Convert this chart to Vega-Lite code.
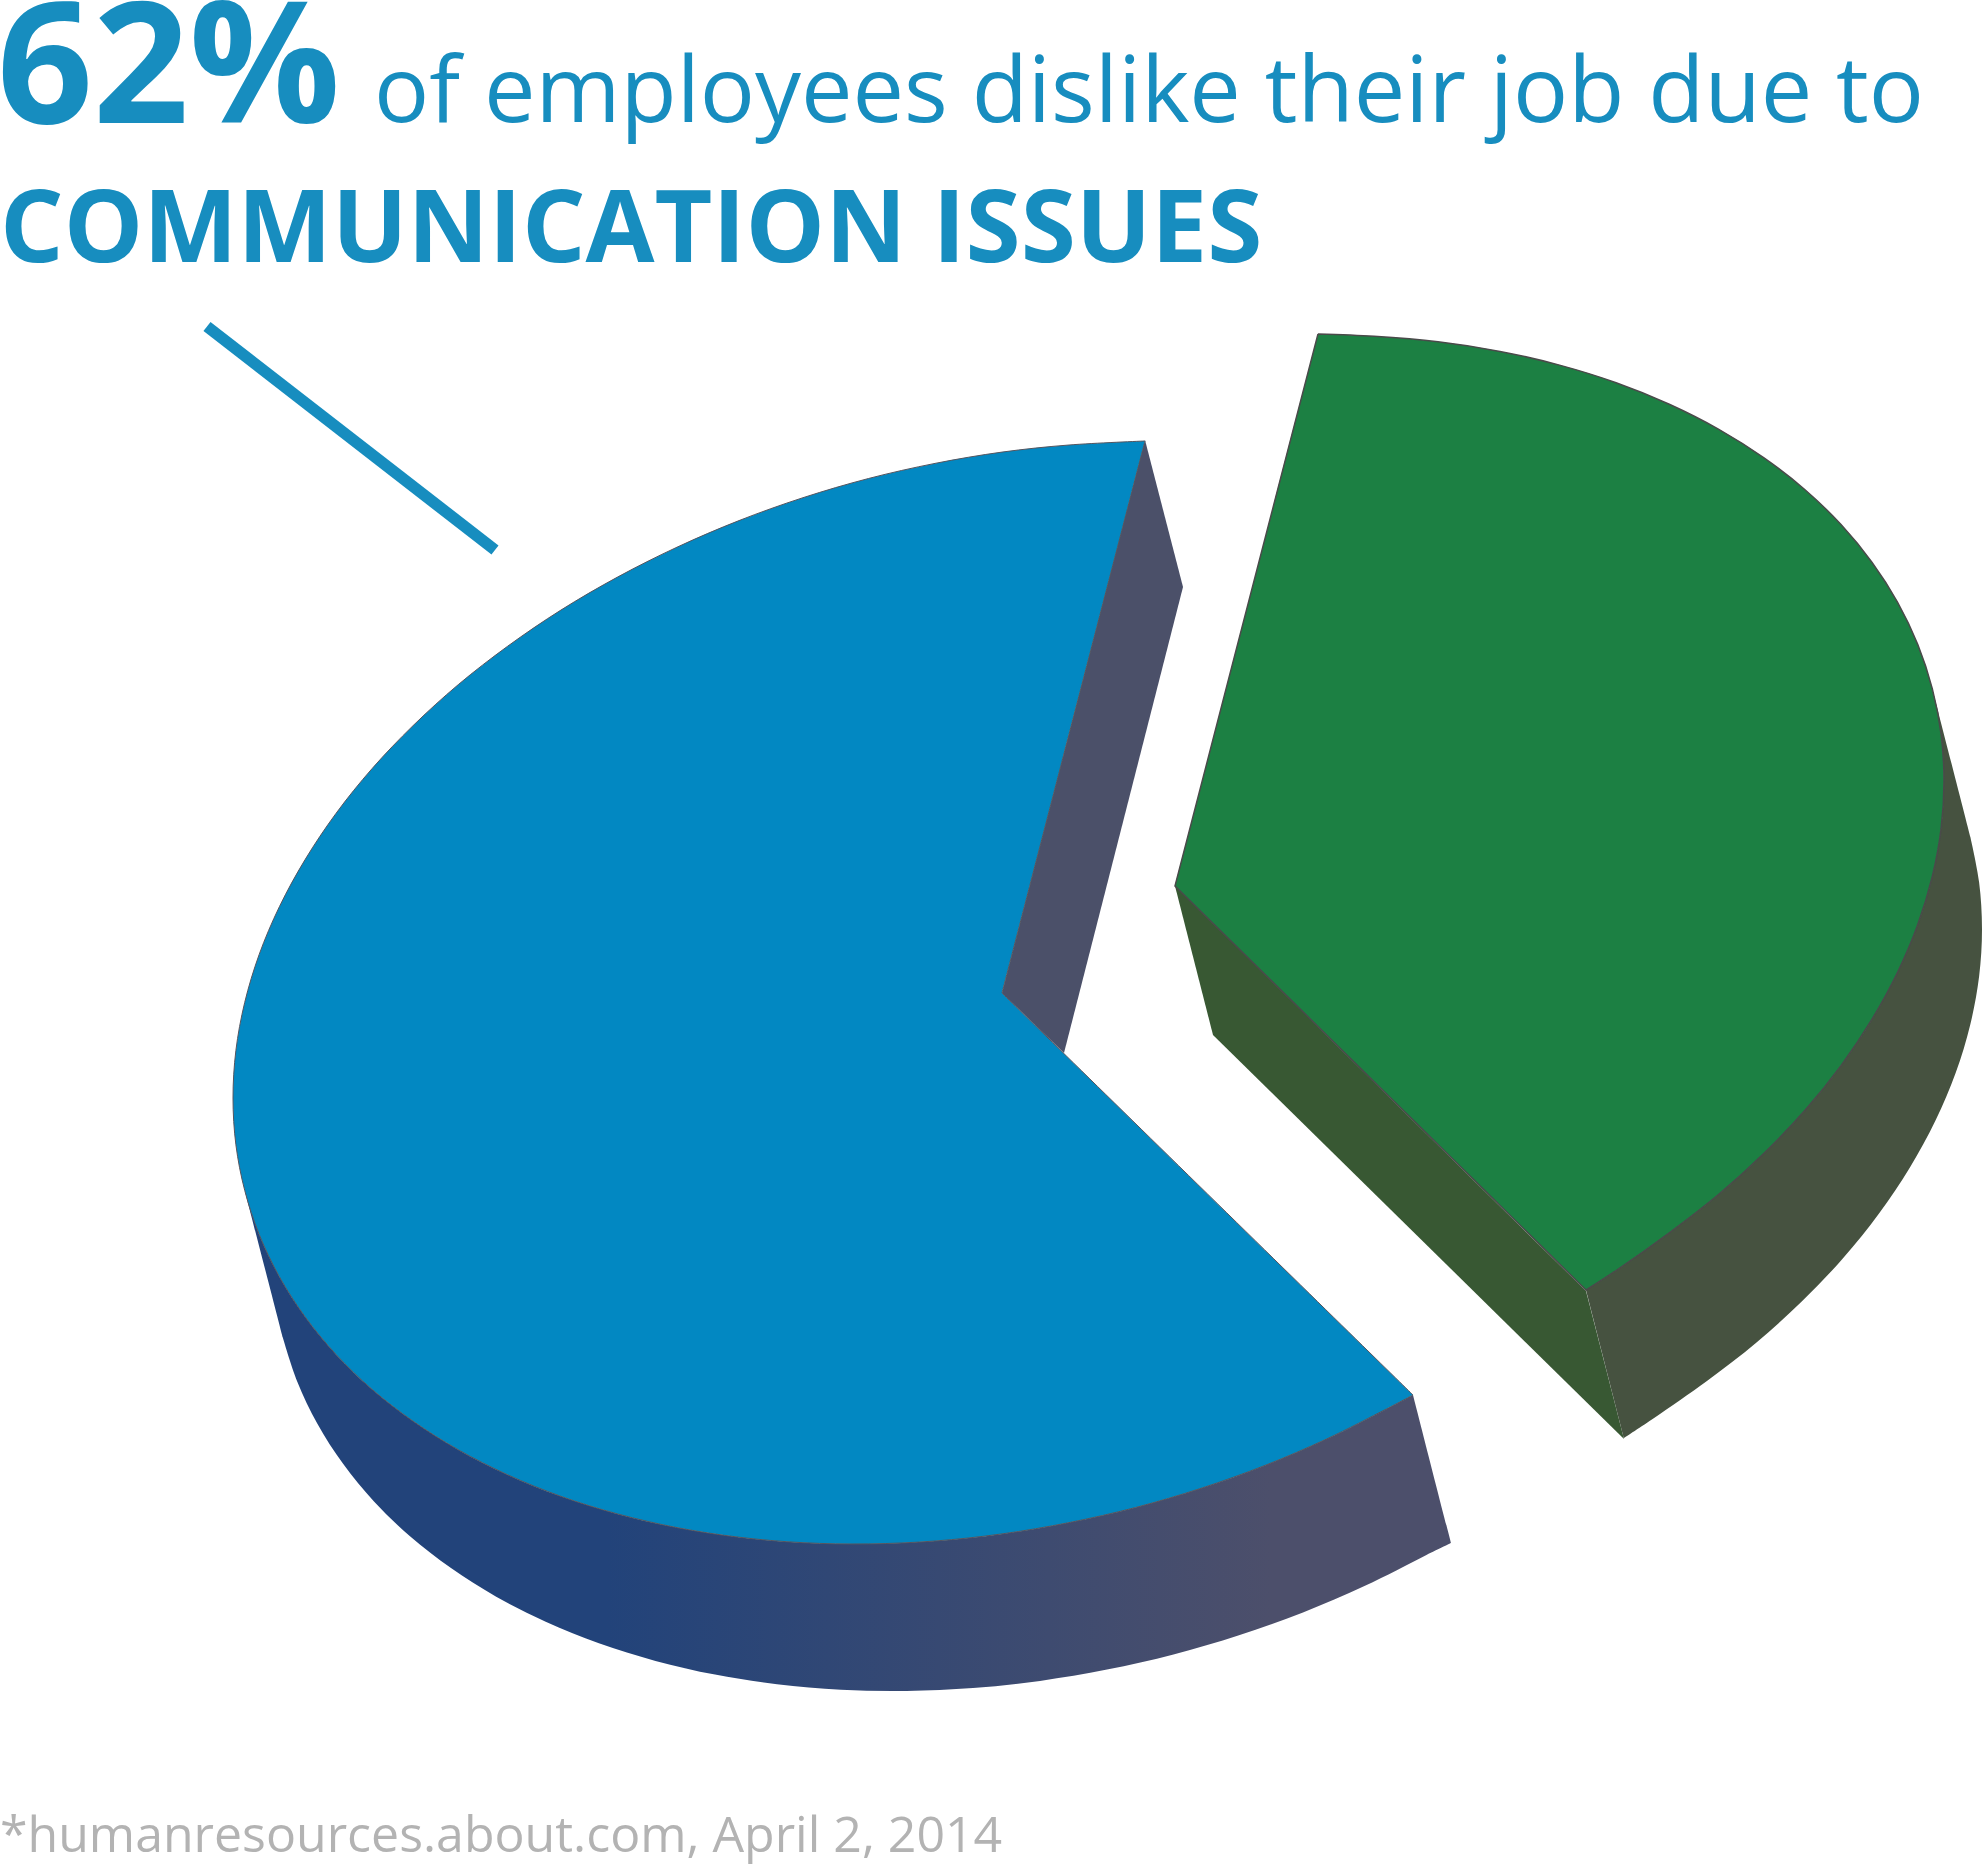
{"$schema":"https://vega.github.io/schema/vega-lite/v6.json","autosize":{"type":"none"},"padding":0,"width":1984,"height":1864,"background":"#ffffff","view":{"stroke":null},
"encoding":{"x":{"field":"x","type":"quantitative","axis":null,"scale":{"domain":[0,1984],"nice":false,"zero":false}},"y":{"field":"y","type":"quantitative","axis":null,"scale":{"domain":[1864,0],"nice":false,"zero":false}},"order":{"field":"i","type":"quantitative"}},
"layer":[
{"data":{"values":[{"i":-1,"x":244.7,"y":1190.3},{"i":0,"x":244.7,"y":1190.3},{"i":1,"x":259.2,"y":1234.4},{"i":2,"x":279.4,"y":1276.7},{"i":3,"x":305.1,"y":1316.8},{"i":4,"x":336,"y":1354.4},{"i":5,"x":372,"y":1389.3},{"i":6,"x":413,"y":1421.1},{"i":7,"x":458.2,"y":1449.7},{"i":8,"x":507.7,"y":1474.8},{"i":9,"x":560.9,"y":1496.3},{"i":10,"x":617.5,"y":1513.9},{"i":11,"x":677,"y":1527.6},{"i":12,"x":739,"y":1537.2},{"i":13,"x":803,"y":1542.7},{"i":14,"x":868.5,"y":1543.9},{"i":15,"x":935,"y":1541},{"i":16,"x":1002,"y":1533.9},{"i":17,"x":1069,"y":1522.6},{"i":18,"x":1135.5,"y":1507.5},{"i":19,"x":1201,"y":1488.3},{"i":20,"x":1265,"y":1465.4},{"i":21,"x":1327,"y":1438.8},{"i":22,"x":1386.5,"y":1408.9},{"i":23,"x":1413,"y":1395},{"i":23.5,"x":1413,"y":1395},{"i":24,"x":1451,"y":1543},{"i":24.5,"x":1451,"y":1543},{"i":25,"x":1424.5,"y":1555.9},{"i":26,"x":1365,"y":1585.8},{"i":27,"x":1303,"y":1612.4},{"i":28,"x":1239,"y":1635.3},{"i":29,"x":1173.5,"y":1654.5},{"i":30,"x":1107,"y":1669.6},{"i":31,"x":1040,"y":1680.9},{"i":32,"x":973,"y":1688},{"i":33,"x":906.5,"y":1690.9},{"i":34,"x":841,"y":1689.7},{"i":35,"x":777,"y":1684.2},{"i":36,"x":715,"y":1674.6},{"i":37,"x":655.5,"y":1660.9},{"i":38,"x":598.9,"y":1643.3},{"i":39,"x":545.7,"y":1621.8},{"i":40,"x":496.2,"y":1596.7},{"i":41,"x":451,"y":1568.1},{"i":42,"x":410,"y":1536.3},{"i":43,"x":374,"y":1501.4},{"i":44,"x":343.1,"y":1463.8},{"i":45,"x":317.4,"y":1423.7},{"i":46,"x":297.2,"y":1381.4},{"i":47,"x":282.7,"y":1337.3},{"i":47.5,"x":282.7,"y":1337.3},{"i":48,"x":244.7,"y":1190.3},{"i":49,"x":244.7,"y":1190.3}]},
"mark":{"type":"line","interpolate":"catmull-rom","strokeWidth":0,"fill":{"gradient":"linear","x1":0,"y1":0,"x2":1,"y2":0,"stops":[{"offset":0.3,"color":"#22437a"},{"offset":0.85,"color":"#4c4f6b"},{"offset":1,"color":"#4c4f6b"}]}}},
{"data":{"values":[{"i":0,"x":1145,"y":440},{"i":1,"x":1183,"y":587},{"i":2,"x":1064,"y":1053},{"i":3,"x":1002,"y":993},{"i":4,"x":1145,"y":440}]},
"mark":{"type":"line","strokeWidth":0,"fill":"#4b5069"}},
{"data":{"values":[{"i":-1,"x":1145,"y":441},{"i":0,"x":1145,"y":441},{"i":1,"x":1069,"y":445},{"i":2,"x":1002,"y":452.1},{"i":3,"x":935,"y":463.4},{"i":4,"x":868.5,"y":478.5},{"i":5,"x":803,"y":497.7},{"i":6,"x":739,"y":520.6},{"i":7,"x":677,"y":547.2},{"i":8,"x":617.5,"y":577.1},{"i":9,"x":560.9,"y":610.1},{"i":10,"x":507.7,"y":646.2},{"i":11,"x":458.2,"y":684.7},{"i":12,"x":413,"y":725.7},{"i":13,"x":372,"y":768.7},{"i":14,"x":336,"y":813.4},{"i":15,"x":305.1,"y":859.6},{"i":16,"x":279.4,"y":906.7},{"i":17,"x":259.2,"y":954.4},{"i":18,"x":244.7,"y":1002.5},{"i":19,"x":235.9,"y":1050.4},{"i":20,"x":233,"y":1098},{"i":21,"x":235.9,"y":1144.8},{"i":22,"x":244.7,"y":1190.3},{"i":23,"x":259.2,"y":1234.4},{"i":24,"x":279.4,"y":1276.7},{"i":25,"x":305.1,"y":1316.8},{"i":26,"x":336,"y":1354.4},{"i":27,"x":372,"y":1389.3},{"i":28,"x":413,"y":1421.1},{"i":29,"x":458.2,"y":1449.7},{"i":30,"x":507.7,"y":1474.8},{"i":31,"x":560.9,"y":1496.3},{"i":32,"x":617.5,"y":1513.9},{"i":33,"x":677,"y":1527.6},{"i":34,"x":739,"y":1537.2},{"i":35,"x":803,"y":1542.7},{"i":36,"x":868.5,"y":1543.9},{"i":37,"x":935,"y":1541},{"i":38,"x":1002,"y":1533.9},{"i":39,"x":1069,"y":1522.6},{"i":40,"x":1135.5,"y":1507.5},{"i":41,"x":1201,"y":1488.3},{"i":42,"x":1265,"y":1465.4},{"i":43,"x":1327,"y":1438.8},{"i":44,"x":1386.5,"y":1408.9},{"i":45,"x":1413,"y":1395},{"i":45.5,"x":1413,"y":1395},{"i":46,"x":1002,"y":993},{"i":46.5,"x":1002,"y":993},{"i":47,"x":1145,"y":441},{"i":48,"x":1145,"y":441}]},
"mark":{"type":"line","interpolate":"catmull-rom","stroke":"#55555f","strokeWidth":1,"fill":"#0288c2"}},
{"data":{"values":[{"i":0,"x":1175,"y":886},{"i":1,"x":1213,"y":1035},{"i":2,"x":1624,"y":1439},{"i":3,"x":1586,"y":1291},{"i":4,"x":1175,"y":886}]},
"mark":{"type":"line","strokeWidth":0,"fill":"#385833"}},
{"data":{"values":[{"i":-1,"x":1932.3,"y":688.7},{"i":0,"x":1932.3,"y":688.7},{"i":1,"x":1941.1,"y":734.2},{"i":2,"x":1944,"y":781},{"i":3,"x":1941.1,"y":828.6},{"i":4,"x":1932.3,"y":876.5},{"i":5,"x":1917.8,"y":924.6},{"i":6,"x":1897.6,"y":972.3},{"i":7,"x":1871.9,"y":1019.4},{"i":8,"x":1841,"y":1065.6},{"i":9,"x":1805,"y":1110.3},{"i":10,"x":1764,"y":1153.3},{"i":11,"x":1718.8,"y":1194.3},{"i":12,"x":1669.3,"y":1232.8},{"i":13,"x":1616.1,"y":1270.5},{"i":14,"x":1586,"y":1290},{"i":14.5,"x":1586,"y":1290},{"i":15,"x":1624,"y":1438},{"i":15.5,"x":1624,"y":1438},{"i":16,"x":1654.1,"y":1418},{"i":17,"x":1707.3,"y":1380.8},{"i":18,"x":1756.8,"y":1342.3},{"i":19,"x":1802,"y":1301.3},{"i":20,"x":1843,"y":1258.3},{"i":21,"x":1879,"y":1213.6},{"i":22,"x":1909.9,"y":1167.4},{"i":23,"x":1935.6,"y":1120.3},{"i":24,"x":1955.8,"y":1072.6},{"i":25,"x":1970.3,"y":1024.5},{"i":26,"x":1979.1,"y":976.6},{"i":27,"x":1982,"y":929},{"i":28,"x":1979.1,"y":882.2},{"i":29,"x":1970.3,"y":836.7},{"i":29.5,"x":1970.3,"y":836.7},{"i":30,"x":1932.3,"y":688.7},{"i":31,"x":1932.3,"y":688.7}]},
"mark":{"type":"line","interpolate":"catmull-rom","strokeWidth":0,"fill":"#465240"}},
{"data":{"values":[{"i":-1,"x":1318,"y":334},{"i":0,"x":1318,"y":334},{"i":1,"x":1374,"y":336.3},{"i":2,"x":1438,"y":341.8},{"i":3,"x":1500,"y":351.4},{"i":4,"x":1559.5,"y":365.1},{"i":5,"x":1616.1,"y":382.7},{"i":6,"x":1669.3,"y":404.2},{"i":7,"x":1718.8,"y":429.3},{"i":8,"x":1764,"y":457.9},{"i":9,"x":1805,"y":489.7},{"i":10,"x":1841,"y":524.6},{"i":11,"x":1871.9,"y":562.2},{"i":12,"x":1897.6,"y":602.3},{"i":13,"x":1917.8,"y":644.6},{"i":14,"x":1932.3,"y":688.7},{"i":15,"x":1941.1,"y":734.2},{"i":16,"x":1944,"y":781},{"i":17,"x":1941.1,"y":828.6},{"i":18,"x":1932.3,"y":876.5},{"i":19,"x":1917.8,"y":924.6},{"i":20,"x":1897.6,"y":972.3},{"i":21,"x":1871.9,"y":1019.4},{"i":22,"x":1841,"y":1065.6},{"i":23,"x":1805,"y":1110.3},{"i":24,"x":1764,"y":1153.3},{"i":25,"x":1718.8,"y":1194.3},{"i":26,"x":1669.3,"y":1232.8},{"i":27,"x":1616.1,"y":1270.5},{"i":28,"x":1586,"y":1290},{"i":28.5,"x":1586,"y":1290},{"i":29,"x":1175,"y":886},{"i":29.5,"x":1175,"y":886},{"i":30,"x":1318,"y":334},{"i":31,"x":1318,"y":334}]},
"mark":{"type":"line","interpolate":"catmull-rom","stroke":"#4a4a4a","strokeWidth":1.5,"fill":"#1c8043"}},
{"data":{"values":[{"x":207,"y":326.5,"x2":495,"y2":550}]},"mark":{"type":"rule","stroke":"#178dbf","strokeWidth":11.5},"encoding":{"x2":{"field":"x2"},"y2":{"field":"y2"},"order":null}},
{"data":{"values":[{"x":-3,"y":123,"t":"62%"}]},"mark":{"type":"text","align":"left","baseline":"alphabetic","font":"Open Sans","fontWeight":700,"fontSize":168,"fill":"#178dbf"},"encoding":{"text":{"field":"t"},"order":null}},
{"data":{"values":[{"x":374,"y":122,"t":"of employees dislike their job due to"}]},"mark":{"type":"text","align":"left","baseline":"alphabetic","font":"Open Sans","fontWeight":400,"fontSize":91.8,"fill":"#178dbf"},"encoding":{"text":{"field":"t"},"order":null}},
{"data":{"values":[{"x":0,"y":262,"t":"COMMUNICATION ISSUES"}]},"mark":{"type":"text","align":"left","baseline":"alphabetic","font":"Open Sans","fontWeight":700,"fontSize":100,"fill":"#178dbf"},"encoding":{"text":{"field":"t"},"order":null}},
{"data":{"values":[{"x":0,"y":1852,"t":"*humanresources.about.com, April 2, 2014"}]},"mark":{"type":"text","align":"left","baseline":"alphabetic","font":"Open Sans","fontWeight":400,"fontSize":50,"fill":"#b3b3b3"},"encoding":{"text":{"field":"t"},"order":null}}
]}
